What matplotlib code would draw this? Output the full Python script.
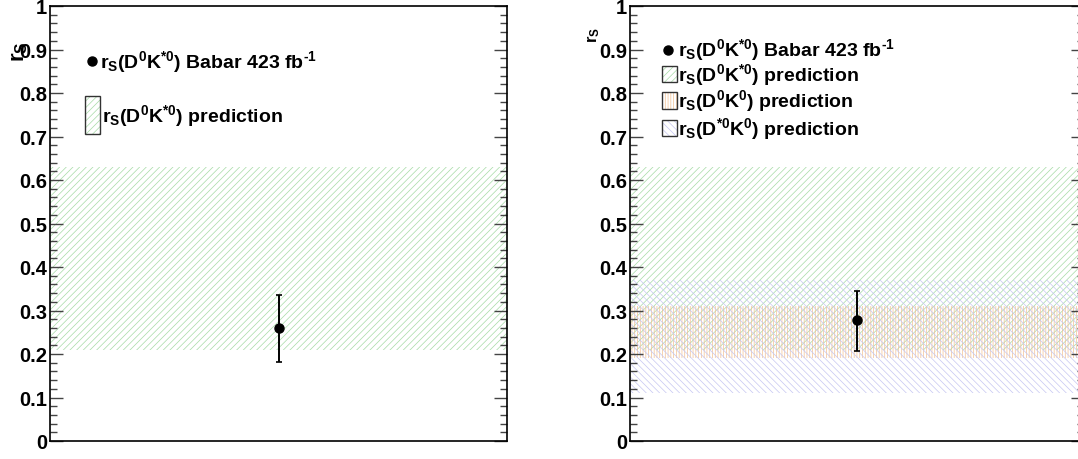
import matplotlib
matplotlib.use("Agg")
import matplotlib.pyplot as plt
from matplotlib.patches import Rectangle

plt.rcParams['font.family'] = ['Liberation Sans', 'DejaVu Sans']
plt.rcParams['font.weight'] = 'bold'
plt.rcParams['mathtext.fontset'] = 'custom'
plt.rcParams['mathtext.rm'] = 'Liberation Sans:bold'
plt.rcParams['mathtext.it'] = 'Liberation Sans:bold'
plt.rcParams['mathtext.bf'] = 'Liberation Sans:bold'
plt.rcParams['mathtext.sf'] = 'Liberation Sans:bold'
plt.rcParams['mathtext.default'] = 'rm'
plt.rcParams['hatch.linewidth'] = 0.5
plt.rcParams['axes.unicode_minus'] = False

# ---------------- data ----------------
babar_x = 0.5
babar_left = 0.26
babar_left_lo = 0.182
babar_left_hi = 0.335
babar_right = 0.278
babar_right_lo = 0.206
babar_right_hi = 0.344

pred_names = [r"r$_S$(D$^0$K$^{*0}$) prediction",
              r"r$_S$(D$^0$K$^0$) prediction",
              r"r$_S$(D$^{*0}$K$^0$) prediction"]
pred_lo = [0.21, 0.19, 0.11]
pred_hi = [0.63, 0.31, 0.37]
pred_colors = ['#a6dba6', '#f3c090', '#c6c6f2']
pred_hatch = ['/' * 5, '|' * 6, '\\' * 5]

babar_label = r"r$_S$(D$^0$K$^{*0}$) Babar 423 fb$^{\text{-1}}$"
y_label = r"r$_S$"
y_ticks = [0, 0.1, 0.2, 0.3, 0.4, 0.5, 0.6, 0.7, 0.8, 0.9, 1]
y_ticklabels = ['0', '0.1', '0.2', '0.3', '0.4', '0.5', '0.6', '0.7', '0.8', '0.9', '1']

W, H = 1078, 460
fig = plt.figure(figsize=(W / 100, H / 100), dpi=100)
ax1 = fig.add_axes([50 / W, 1 - 442 / H, 457 / W, 435 / H])
ax2 = fig.add_axes([630 / W, 1 - 442 / H, 454 / W, 435 / H])

LEG_FS = 14


def style(ax):
    ax.set_xlim(0, 1)
    ax.set_ylim(0, 1)
    ax.set_xticks([])
    ax.set_yticks(y_ticks)
    ax.set_yticklabels(y_ticklabels, fontsize=14.5, fontweight='bold')
    ax.set_yticks([v / 100 for v in range(0, 101, 2) if v % 10], minor=True)
    ax.tick_params(axis='y', which='both', direction='in', left=True, right=True,
                   color='#444444', width=1.0, pad=2)
    ax.tick_params(axis='y', which='major', length=9.5)
    ax.tick_params(axis='y', which='minor', length=5)
    for s in ax.spines.values():
        s.set_linewidth(1.2)


def band(ax, i):
    ax.axhspan(pred_lo[i], pred_hi[i], facecolor='none', edgecolor=pred_colors[i],
               hatch=pred_hatch[i], linewidth=0, zorder=1)


def legbox(ax, x0, y0, w, h, i):
    ax.add_patch(Rectangle((x0, y0), w, h, transform=ax.transAxes, facecolor='white',
                           edgecolor='none', zorder=3))
    ax.add_patch(Rectangle((x0, y0), w, h, transform=ax.transAxes, facecolor='none',
                           edgecolor=pred_colors[i], hatch=pred_hatch[i], linewidth=0, zorder=4))
    ax.add_patch(Rectangle((x0, y0), w, h, transform=ax.transAxes, facecolor='none',
                           edgecolor='#333333', linewidth=1.0, zorder=5))


# ---------- left panel ----------
style(ax1)
band(ax1, 0)
ax1.errorbar([babar_x], [babar_left],
             yerr=[[babar_left - babar_left_lo], [babar_left_hi - babar_left]],
             fmt='o', color='black', markersize=6.5, elinewidth=1.4, capsize=2.5,
             capthick=1.2, zorder=6)
ax1.plot([0.092], [0.874], 'o', color='black', markersize=6.5, transform=ax1.transAxes,
         clip_on=False)
ax1.text(0.109, 0.874, babar_label, transform=ax1.transAxes, fontsize=LEG_FS,
         fontweight='bold', va='center', ha='left')
legbox(ax1, 0.0766, 0.706, 0.033, 0.087, 0)
ax1.text(0.114, 0.75, pred_names[0], transform=ax1.transAxes, fontsize=LEG_FS,
         fontweight='bold', va='center', ha='left')
fig.text(20 / W, 1 - 52 / H, y_label, rotation=90, fontsize=16, fontweight='bold',
         ha='center', va='center')

# ---------- right panel ----------
style(ax2)
for i in range(len(pred_names)):
    band(ax2, i)
ax2.errorbar([babar_x], [babar_right],
             yerr=[[babar_right - babar_right_lo], [babar_right_hi - babar_right]],
             fmt='o', color='black', markersize=6.5, elinewidth=1.4, capsize=2.5,
             capthick=1.2, zorder=6)
ax2.plot([0.084], [0.90], 'o', color='black', markersize=6.5, transform=ax2.transAxes,
         clip_on=False)
ax2.text(0.106, 0.90, babar_label, transform=ax2.transAxes, fontsize=LEG_FS,
         fontweight='bold', va='center', ha='left')
centers = [0.844, 0.783, 0.72]
for i, c in enumerate(centers):
    legbox(ax2, 0.070, c - 0.019, 0.034, 0.038, i)
    ax2.text(0.106, c, pred_names[i], transform=ax2.transAxes, fontsize=LEG_FS,
             fontweight='bold', va='center', ha='left')
fig.text(594 / W, 1 - 35 / H, y_label, rotation=90, fontsize=12, fontweight='bold',
         ha='center', va='center')

fig.savefig('out.png', dpi=100)
